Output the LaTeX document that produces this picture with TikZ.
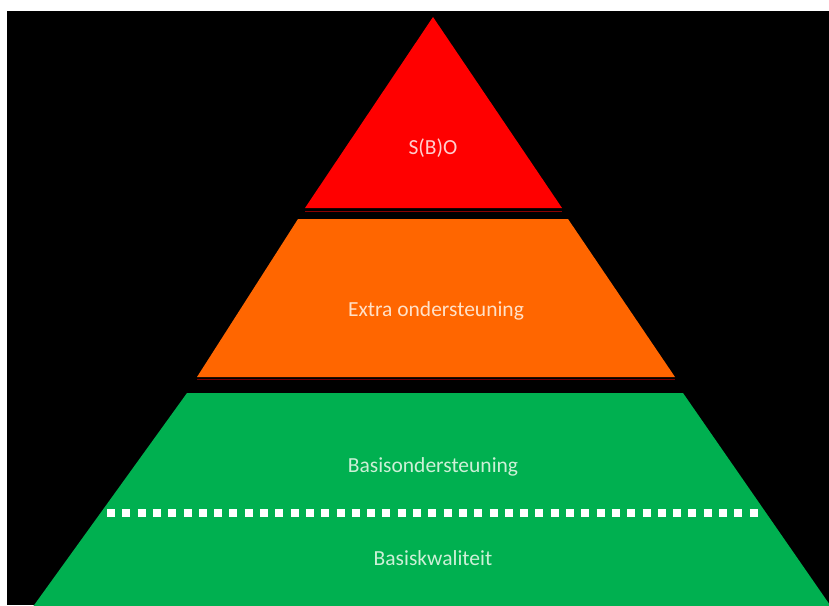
\documentclass[tikz,border=0pt]{standalone}
\usepackage{fontspec}
\setmainfont{Carlito}
\definecolor{lvred}{RGB}{255,0,0}
\definecolor{lvorange}{RGB}{255,102,0}
\definecolor{lvgreen}{RGB}{0,176,80}
\tikzset{
  lvlabel/.style={font=\fontsize{21.5}{25}\selectfont, inner sep=0pt, anchor=center},
}
\begin{document}
\begin{tikzpicture}[x=1pt,y=-1pt]
\useasboundingbox (0,0) rectangle (829,605);
\fill[white] (0,0) rectangle (829,605);
\fill[black] (7,11) rectangle (829,605);
% top triangle
\fill[lvred] (433,17) -- (562,208) -- (305,208) -- cycle;
\draw[red!55!black, line width=1pt] (305,211) -- (562,211);
% middle trapezoid
\fill[lvorange] (298,219) -- (568,219) -- (675,377) -- (197,377) -- cycle;
\draw[red!45!black, line width=1pt] (197,379.5) -- (675,379.5);
% bottom trapezoid
\fill[lvgreen] (187,393) -- (683,393) -- (832,608) -- (32,608) -- cycle;
\coordinate (dl) at (107,513);
\coordinate (dr) at (760,513);
\draw[white, line width=8pt, dash pattern=on 8pt off 7.3pt] (dl) -- (dr);
\node[lvlabel, text={rgb,255:red,255;green,205;blue,205}] (sbo) at (433,148) {S(B)O};
\node[lvlabel, text={rgb,255:red,255;green,225;blue,200}] (extra) at (436,311) {Extra ondersteuning};
\node[lvlabel, text={rgb,255:red,205;green,240;blue,215}] (basis) at (433,467) {Basisondersteuning};
\node[lvlabel, text={rgb,255:red,205;green,240;blue,215}] (kwal) at (433,558) {Basiskwaliteit};
\end{tikzpicture}
\end{document}
